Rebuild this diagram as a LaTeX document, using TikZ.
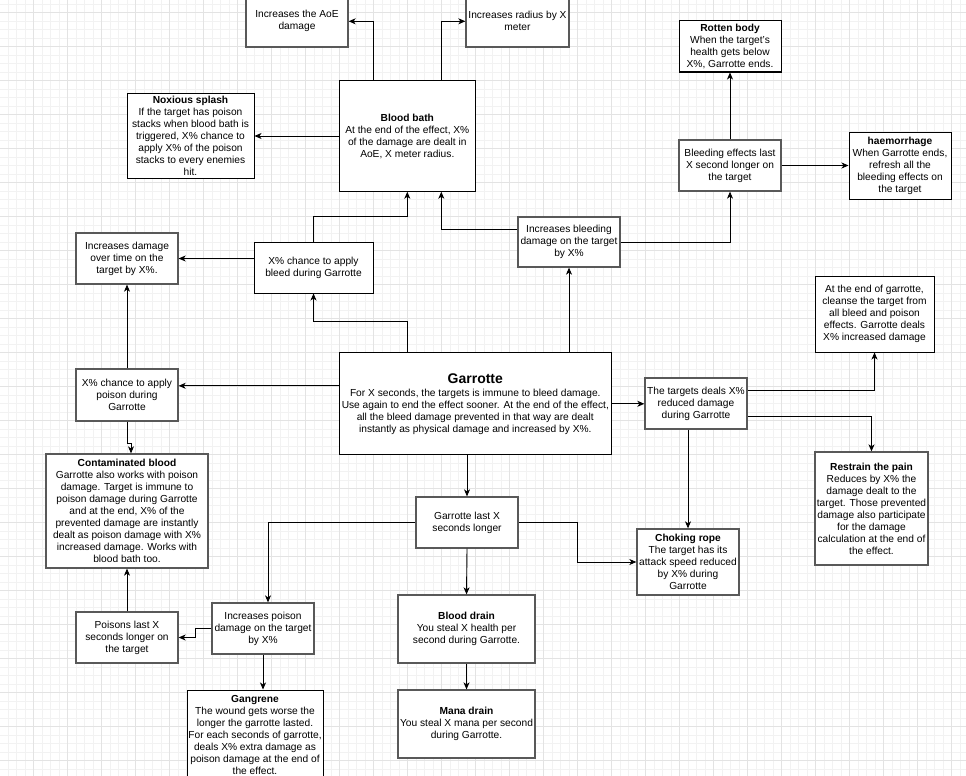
\documentclass[tikz,border=0pt]{standalone}
\usepackage{fontspec}
\setmainfont{Liberation Sans}
\usetikzlibrary{arrows.meta}
\newcommand\bodyfont{\fontsize{10.2}{12}\selectfont}
\tikzset{
  box/.style={draw=black, line width=1pt, fill=white, align=center, inner sep=0pt, font=\bodyfont},
  gbox/.style={box, draw=black!65, line width=1.3pt},
  arr/.style={-{Stealth[length=7pt,width=6pt,inset=2pt]}, line width=0.9pt, draw=black},
  minorline/.style={draw=black!5, line width=0.6pt},
  majorline/.style={draw=black!11, line width=0.8pt}
}
\begin{document}
\begin{tikzpicture}[x=1pt,y=-1pt]
\useasboundingbox (0,0) rectangle (966,776);
\fill[white] (0,0) rectangle (966,776);
% grid
\foreach \i in {0,...,114} \draw[minorline] ({-0.7+8.5*\i},0) -- ({-0.7+8.5*\i},776);
\foreach \j in {-1,...,90} \draw[minorline] (0,{12.7+8.5*\j}) -- (966,{12.7+8.5*\j});
\foreach \i in {0,...,29} \draw[majorline] ({-0.7+34*\i},0) -- ({-0.7+34*\i},776);
\foreach \j in {-1,...,23} \draw[majorline] (0,{12.7+34*\j}) -- (966,{12.7+34*\j});

% nodes
\node[gbox, minimum width=102pt, minimum height=51.3pt] (aoe) at (297,21.3) {Increases the AoE\\damage};
\node[gbox, minimum width=103pt, minimum height=51.3pt] (radius) at (517.5,21.3) {Increases radius by X\\meter};
\node[box, minimum width=127pt, minimum height=85pt] (noxious) at (190.5,135.5) {\textbf{Noxious splash}\\If the target has poison\\stacks when blood bath is\\triggered, X\% chance to\\apply X\% of the poison\\stacks to every enemies\\hit.};
\node[box, minimum width=136pt, minimum height=110.5pt] (bloodbath) at (407.3,136) {\textbf{Blood bath}\\At the end of the effect, X\%\\of the damage are dealt in\\AoE, X meter radius.};
\node[gbox, minimum width=102pt, minimum height=51pt] (dot) at (127,258.5) {Increases damage\\over time on the\\target by X\%.};
\node[box, minimum width=119pt, minimum height=51pt] (bleedch) at (313.5,267.5) {X\% chance to apply\\bleed during Garrotte};
\node[gbox, minimum width=102pt, minimum height=50pt] (incbleed) at (569,242) {Increases bleeding\\damage on the target\\by X\%};
\node[gbox, minimum width=102pt, minimum height=51pt] (bleedlast) at (730,165.5) {Bleeding effects last\\X second longer on\\the target};
\node[box, minimum width=102pt, minimum height=51pt] (rotten) at (730,46.5) {\textbf{Rotten body}\\When the target's\\health gets below\\X\%, Garrotte ends.};
\node[box, minimum width=102pt, minimum height=67pt] (haem) at (900,165.5) {\textbf{haemorrhage}\\When Garrotte ends,\\refresh all the\\bleeding effects on\\the target};
\node[box, minimum width=119pt, minimum height=76pt] (cleanse) at (874.5,314) {At the end of garrotte,\\cleanse the target from\\all bleed and poison\\effects. Garrotte deals\\X\% increased damage};
\node[box, minimum width=272pt, minimum height=101.7pt] (garrotte) at (475.3,403.8) {{\fontsize{14}{16}\selectfont\bfseries Garrotte}\\[1pt]For X seconds, the targets is immune to bleed damage.\\Use again to end the effect sooner. At the end of the effect,\\all the bleed damage prevented in that way are dealt\\instantly as physical damage and increased by X\%.};
\node[gbox, minimum width=102pt, minimum height=51pt] (targets) at (696,403.5) {The targets deals X\%\\reduced damage\\during Garrotte};
\node[gbox, minimum width=113pt, minimum height=113pt] (restrain) at (871.5,508.5) {\textbf{Restrain the pain}\\Reduces by X\% the\\damage dealt to the\\target. Those prevented\\damage also participate\\for the damage\\calculation at the end of\\the effect.};
\node[gbox, minimum width=102pt, minimum height=52pt] (poisonch) at (127,395) {X\% chance to apply\\poison during\\Garrotte};
\node[gbox, minimum width=162pt, minimum height=114pt] (contam) at (127,511) {\textbf{Contaminated blood}\\Garrotte also works with poison\\damage. Target is immune to\\poison damage during Garrotte\\and at the end, X\% of the\\prevented damage are instantly\\dealt as poison damage with X\%\\increased damage. Works with\\blood bath too.};
\node[gbox, minimum width=102pt, minimum height=51pt] (glast) at (467,522.5) {Garrotte last X\\seconds longer};
\node[gbox, minimum width=102pt, minimum height=66pt] (choking) at (688,562) {\textbf{Choking rope}\\The target has its\\attack speed reduced\\by X\% during\\Garrotte};
\node[gbox, minimum width=102pt, minimum height=51pt] (poisonlast) at (127,637.5) {Poisons last X\\seconds longer on\\the target};
\node[gbox, minimum width=102pt, minimum height=51pt] (incpoison) at (263,628.5) {Increases poison\\damage on the target\\by X\%};
\node[box, minimum width=136pt, minimum height=90pt] (gangrene) at (255,735) {\textbf{Gangrene}\\The wound gets worse the\\longer the garrotte lasted.\\For each seconds of garrotte,\\deals X\% extra damage as\\poison damage at the end of\\the effect.};
\node[gbox, minimum width=137pt, minimum height=68pt] (blooddrain) at (466.5,629) {\textbf{Blood drain}\\You steal X health per\\second during Garrotte.};
\node[gbox, minimum width=137pt, minimum height=68pt] (mana) at (466.5,724) {\textbf{Mana drain}\\You steal X mana per second\\during Garrotte.};

% connectors
\draw[arr] ([xshift=-34pt]bloodbath.north) |- (aoe.east);
\draw[arr] ([xshift=34pt]bloodbath.north) |- (radius.west);
\draw[arr] (bloodbath.west) -- (bloodbath.west -| noxious.east);
\draw[arr] (bleedch.north) -- ++(0,-25) -| (bloodbath.south);
\draw[arr] (bleedch.west |- dot.east) -- (dot.east);
\draw[arr] ([yshift=13pt]incbleed.west) -| ([xshift=34pt]bloodbath.south);
\draw[arr] (incbleed.east) -| (bleedlast.south);
\draw[arr] (bleedlast.north) -- (rotten.south);
\draw[arr] (bleedlast.east) -- (haem.west);
\draw[arr] ([xshift=-68pt]garrotte.north) -- ++(0,-31) -| (bleedch.south);
\draw[arr] (garrotte.north -| incbleed.south) -- (incbleed.south);
\coordinate (gw) at ([yshift=18pt]garrotte.west);
\draw[arr] (gw) -- (gw -| poisonch.east);
\draw[arr] (poisonch.north) -- (dot.south);
\draw[arr] (poisonch.south) -- ++(0,22) -- ++(4,0) -- ([xshift=4pt]contam.north);
\draw[arr] (garrotte.east) -- (garrotte.east -| targets.west);
\draw[arr] ([yshift=13.5pt]targets.east) -| (cleanse.south);
\draw[arr] ([yshift=-12.5pt]targets.east) -| (restrain.north);
\draw[arr] (targets.south -| choking.north) -- (choking.north);
\draw[arr] (garrotte.south -| glast.north) -- (glast.north);
\draw[arr] (glast.west) -| ([xshift=5pt]incpoison.north);
\draw[arr] (glast.east) -- ++(59,0) |- (choking.west);
\draw[arr] (glast.south) -- (blooddrain.north);
\draw[arr] (blooddrain.south) -- (mana.north);
\draw[arr] (incpoison.south) -- (incpoison.south |- gangrene.north);
\draw[arr] (incpoison.west) -- ++(-16,0) |- (poisonlast.east);
\draw[arr] (poisonlast.north) -- (contam.south);
\end{tikzpicture}
\end{document}
